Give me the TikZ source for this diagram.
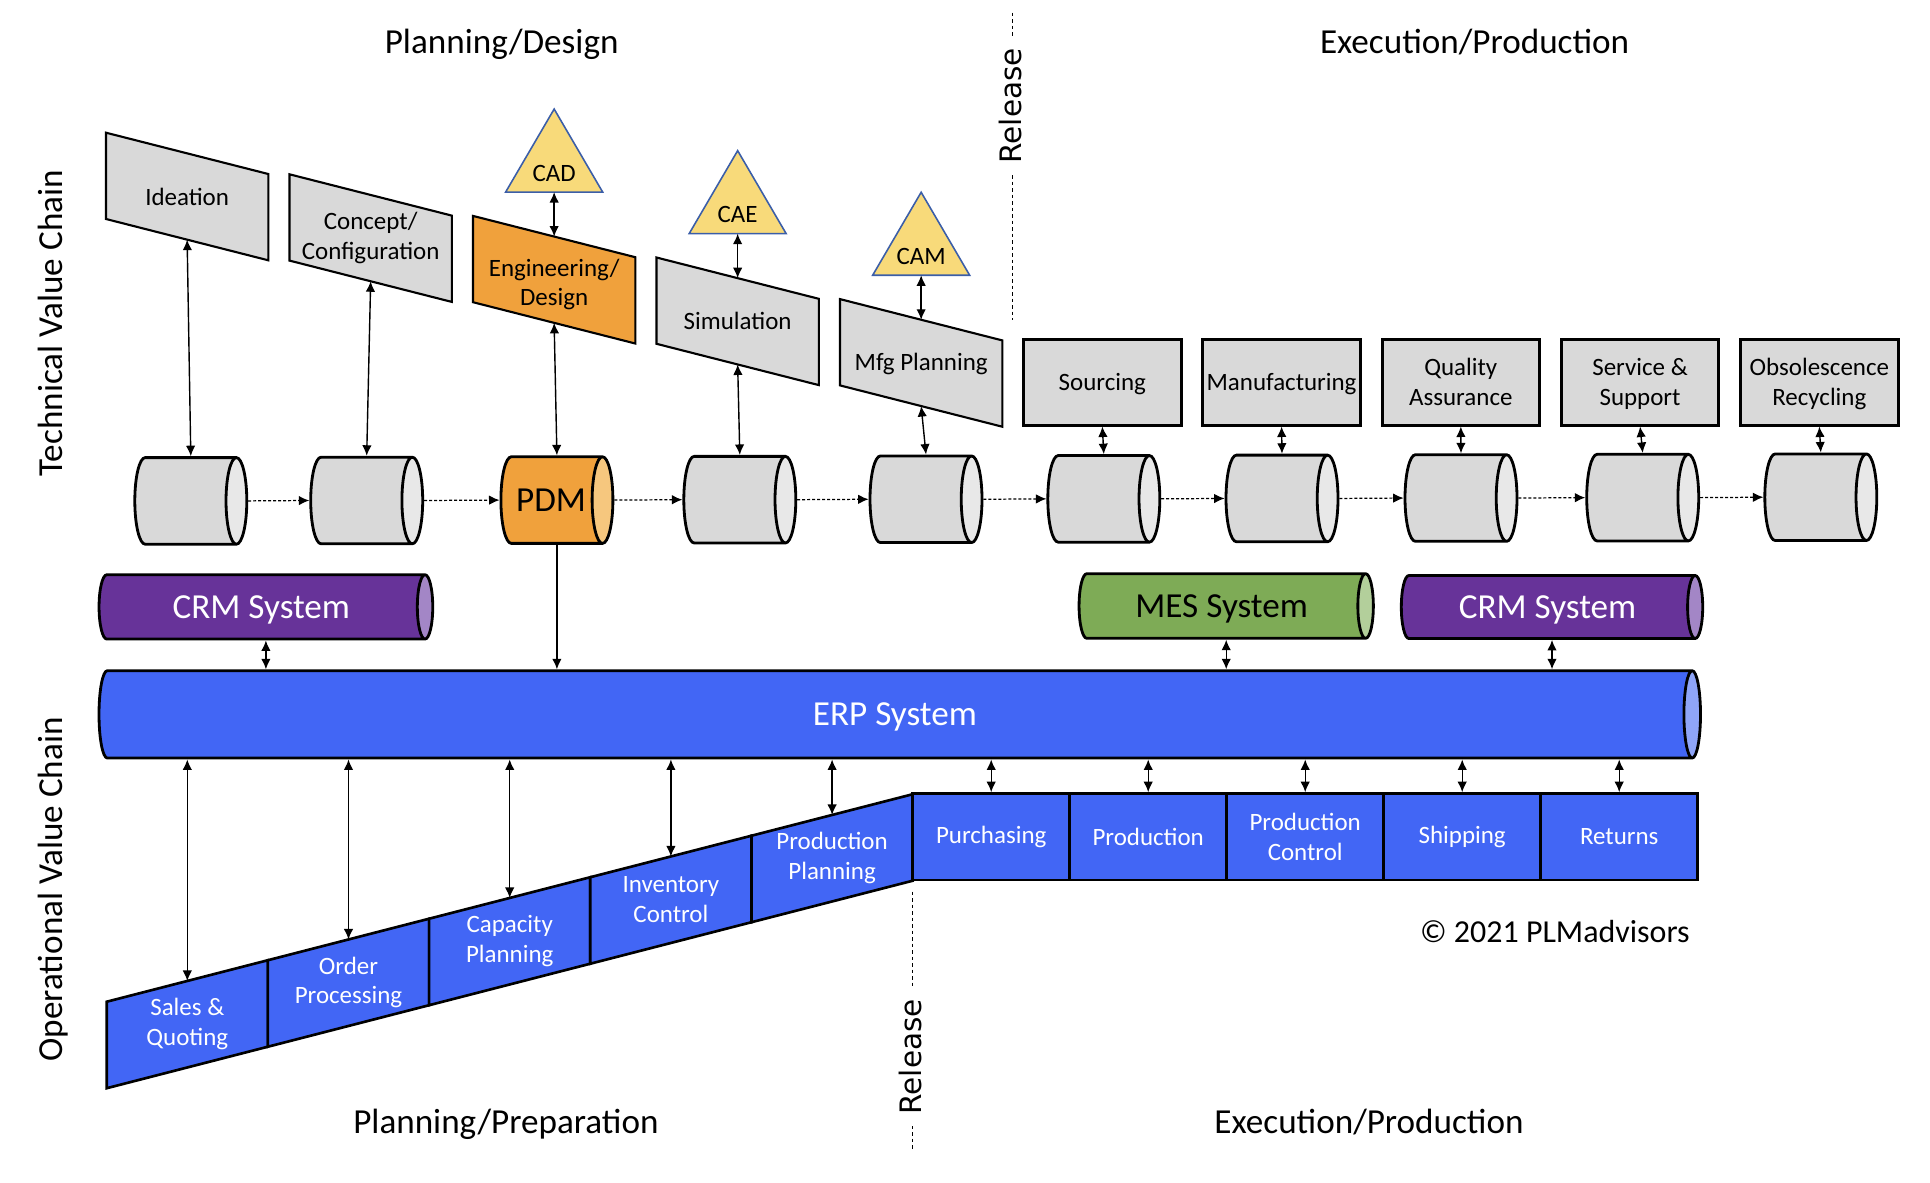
\documentclass[tikz,border=0pt]{standalone}
\usepackage{fontspec}
\setmainfont{Carlito}
\newfontfamily\relfont{DejaVu Sans}
\usetikzlibrary{shapes.geometric,arrows.meta}

\definecolor{tvgrey}{HTML}{D9D9D9}
\definecolor{tvcap}{HTML}{E8E8E8}
\definecolor{pdmorange}{HTML}{F0A13C}
\definecolor{pdmcap}{HTML}{F6C77E}
\definecolor{toolyellow}{HTML}{F8DA7A}
\definecolor{toolblue}{HTML}{3B5EA8}
\definecolor{crmpurple}{HTML}{673399}
\definecolor{crmcap}{HTML}{A386C6}
\definecolor{mesgreen}{HTML}{7EAB56}
\definecolor{mescap}{HTML}{B3CF9B}
\definecolor{erpblue}{HTML}{4266F5}
\definecolor{erpcap}{HTML}{8FA5F8}

\tikzset{
  lbl/.style={font=\fontsize{7.1}{8.4}\selectfont, align=center, inner sep=0pt},
  hdr/.style={font=\fontsize{10}{12}\selectfont, inner sep=0pt},
  tvbox/.style={draw, line width=0.6pt},
  tvrect/.style={draw, line width=0.85pt, fill=tvgrey, minimum width=15.74mm, minimum height=8.6mm, lbl, text depth=0pt},
  ovbox/.style={draw, line width=0.75pt, fill=erpblue},
  ovrect/.style={draw, line width=0.75pt, fill=erpblue, minimum width=15.7mm, minimum height=8.65mm, lbl, text=white},
  tool/.style={draw=toolblue, line width=0.45pt, fill=toolyellow},
  dbcyl/.style 2 args={cylinder, draw, line width=0.8pt, shape border rotate=0, aspect=0.24,
    cylinder uses custom fill, cylinder body fill=#1, cylinder end fill=#2, inner sep=0pt, anchor=shape center, hdr},
  % diameter given by text height + text depth
  cyltop/.style={minimum height=11.2mm, minimum width=8.66mm, text height=5.46mm, text depth=3.2mm},
  dbl/.style={<->, >={Latex[length=1.05mm,width=0.95mm]}, line width=0.4pt},
  feed/.style={->, >={Latex[length=1.05mm,width=0.95mm]}, line width=0.4pt},
  flow/.style={->, >={Latex[length=1.05mm,width=0.95mm]}, line width=0.35pt, dash pattern=on 0.3mm off 0.2mm},
  relline/.style={line width=0.3pt, dash pattern=on 0.35mm off 0.3mm},
  reltext/.style={font=\relfont\fontsize{8.4}{10}\selectfont, rotate=90, fill=white, inner xsep=1.2mm, inner ysep=0.3mm}
}

\begin{document}
\begin{tikzpicture}[x=0.1mm,y=-0.1mm]
\useasboundingbox (0,0) rectangle (1930,1182);

% headings
\node[hdr, anchor=base] (plandes) at (501.7,53.3) {Planning/Design};
\node[hdr, anchor=base] (exectop) at (1474.6,53.3) {Execution/Production};
\node[hdr, anchor=base] (planprep) at (505.9,1133.3) {Planning/Preparation};
\node[hdr, anchor=base] (execbot) at (1369,1133.3) {Execution/Production};
\node[hdr, rotate=90, anchor=base] (tvc) at (62.3,323) {Technical Value Chain};
\node[hdr, rotate=90, anchor=base] (ovc) at (62.3,889.3) {Operational Value Chain};
\node[hdr, font=\fontsize{9.1}{11}\selectfont, anchor=base east] (copy) at (1690.4,942.3) {© 2021 PLMadvisors};

% release lines
\coordinate (relA1) at (1012.7,12.7);
\coordinate (relA2) at (1012.7,320);
\coordinate (relB1) at (912.2,891.7);
\coordinate (relB2) at (912.2,1150);
\draw[relline] (relA1) -- (relA2);
\draw[relline] (relB1) -- (relB2);
\node[reltext] (relA) at (1010.5,105.8) {Release};
\node[reltext] (relB) at (910,1056.7) {Release};

% technical value chain: planning steps
\foreach \n/\col/\txt/\dy [count=\i from 0] in {idea/tvgrey/Ideation/0, conc/tvgrey/{Concept/\\Configuration}/0,
    eng/pdmorange/{Engineering/\\Design}/5, sim/tvgrey/Simulation/0, mfg/tvgrey/Mfg Planning/1}{
  \pgfmathsetmacro\xa{106+183.5*\i}
  \pgfmathsetmacro\ya{132.7+41.6*\i}
  \draw[tvbox, fill=\col] (\xa,\ya) -- ++(162.3,41.3) -- ++(0,86.3) -- ++(-162.3,-41.3) -- cycle;
  \node[lbl] (\n) at (\xa+81.15,\ya+63.8+\dy) {\txt};
  \coordinate (\n-t) at (\xa+81.15,\ya+20.65);
  \coordinate (\n-b) at (\xa+81.15,\ya+106.95);
}

% authoring tools
\foreach \n/\txt [count=\i from 2] in {cad/CAD, cae/CAE, cam/CAM}{
  \pgfmathsetmacro\cx{106+183.5*\i+81.15}
  \pgfmathsetmacro\yb{132.7+41.6*\i+20.65-44.5}
  \draw[tool] (\cx,\yb-83) -- (\cx+48.5,\yb) -- (\cx-48.5,\yb) -- cycle;
  \node[lbl, anchor=base] (\n) at (\cx,\yb-11) {\txt};
  \coordinate (\n-s) at (\cx,\yb);
}

% execution steps
\foreach \n/\txt [count=\i from 0] in {src/Sourcing, manu/Manufacturing, qa/{Quality\\Assurance},
    svc/{Service \&\\Support}, obs/{Obsolescence\\Recycling}}
  \node[tvrect] (\n) at (1102.3+179.25*\i,382) {\txt};

% data stores
\foreach \n/\x/\bc/\ec/\txt [count=\i from 0] in {dbidea/190.8/tvgrey/tvcap/{}, dbconc/366.7/tvgrey/tvcap/{},
    pdm/556.9/pdmorange/pdmcap/PDM, dbsim/739.8/tvgrey/tvcap/{}, dbmfg/926/tvgrey/tvcap/{},
    dbsrc/1103.8/tvgrey/tvcap/{}, dbmanu/1282/tvgrey/tvcap/{}, dbqa/1461/tvgrey/tvcap/{},
    dbsvc/1642.7/tvgrey/tvcap/{}, dbobs/1820.8/tvgrey/tvcap/{}}
  \node[dbcyl={\bc}{\ec}, cyltop] (\n) at (\x,500.9-0.41*\i) {\txt};

\foreach \a/\b in {dbidea/dbconc, dbconc/pdm, pdm/dbsim, dbsim/dbmfg, dbmfg/dbsrc,
    dbsrc/dbmanu, dbmanu/dbqa, dbqa/dbsvc, dbsvc/dbobs}
  \draw[flow] (\a.east) -- (\b.west);

\foreach \a/\b in {cad/eng, cae/sim, cam/mfg}
  \draw[dbl] (\a-s) -- (\b-t);
\foreach \a/\b in {idea/dbidea, conc/dbconc, eng/pdm, sim/dbsim, mfg/dbmfg}
  \draw[dbl] (\a-b) -- (\b.shape center |- \b.north);
\foreach \a/\b in {src/dbsrc, manu/dbmanu, qa/dbqa, svc/dbsvc, obs/dbobs}
  \draw[dbl] (\a.south) -- (\b.shape center |- \b.north);

% enterprise systems
\node[dbcyl={crmpurple}{crmcap}, minimum height=33.37mm, minimum width=6.43mm,
  text height=4.4mm, text depth=2.03mm, text=white] (crma) at (265.9,606.9) {CRM System};
\node[dbcyl={mesgreen}{mescap}, minimum height=29.43mm, minimum width=6.46mm,
  text height=4.4mm, text depth=2.06mm] (mes) at (1226.2,606) {MES System};
\node[dbcyl={crmpurple}{crmcap}, minimum height=30.14mm, minimum width=6.3mm,
  text height=4.3mm, text depth=2mm, text=white] (crmb) at (1552,607) {CRM System};
\node[dbcyl={erpblue}{erpcap}, minimum height=160.15mm, minimum width=8.73mm, aspect=0.19,
  text height=5.5mm, text depth=3.23mm, text=white] (erp) at (899.75,714.35) {ERP System};

\draw[dbl] (crma.shape center |- crma.south) -- (crma.shape center |- erp.north);
\draw[dbl] (mes.shape center |- mes.south) -- (mes.shape center |- erp.north);
\draw[dbl] (crmb.shape center |- crmb.south) -- (crmb.shape center |- erp.north);
\draw[feed] (pdm.shape center |- pdm.south) -- (pdm.shape center |- erp.north);

% operational value chain
\foreach \n/\txt [count=\i from 0] in {sales/{Sales \&\\Quoting}, order/{Order\\Processing},
    capa/{Capacity\\Planning}, inv/{Inventory\\Control}, pplan/{Production\\Planning}}{
  \pgfmathsetmacro\xa{106.7+161.2*\i}
  \pgfmathsetmacro\ya{1001.7-41.5*\i}
  \draw[ovbox] (\xa,\ya) -- ++(161.2,-41.5) -- ++(0,86.5) -- ++(-161.2,41.5) -- cycle;
  \node[lbl, text=white] (\n) at (\xa+80.6,\ya+22.5) {\txt};
  \coordinate (\n-t) at (\xa+80.6,\ya-20.75);
}
\foreach \n/\txt [count=\i from 0] in {purch/Purchasing, prod/Production, pctl/{Production\\Control},
    ship/Shipping, ret/Returns}
  \node[ovrect] (\n) at (991.2+157*\i,836.75) {\txt};

\foreach \n in {sales, order, capa, inv, pplan}
  \draw[dbl] (erp.south -| \n-t) -- (\n-t);
\foreach \n in {purch, prod, pctl, ship, ret}
  \draw[dbl] (erp.south -| \n.north) -- (\n.north);
\end{tikzpicture}
\end{document}
